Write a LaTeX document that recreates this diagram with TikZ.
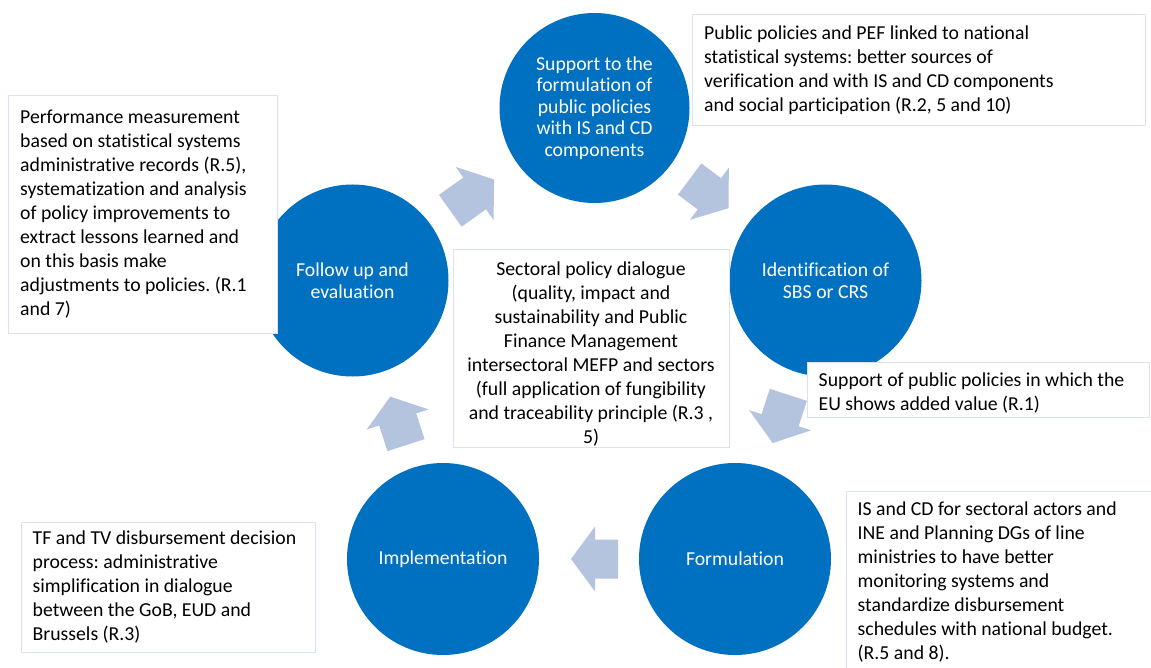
\documentclass[tikz,border=0pt]{standalone}
\usepackage{fontspec}
\setmainfont{Carlito}[Ligatures=NoCommon]
\usepackage{tikz}
\usepackage{xcolor}
\usetikzlibrary{positioning, calc}
\frenchspacing

\definecolor{stageblue}{RGB}{0,112,192}
\definecolor{arrowgrey}{RGB}{180,196,222}
\definecolor{boxedge}{RGB}{218,227,243}

\tikzset{
  stage/.style={circle, fill=stageblue, text=white, minimum size=192pt, inner sep=0pt,
    align=center, font=\fontsize{19.75}{21.6}\selectfont},
  notebox/.style={draw=boxedge, line width=1pt, fill=white, inner sep=0pt},
  notetext/.style={inner sep=0pt, align=left, font=\fontsize{19.75}{24}\selectfont, text=black}
}

\begin{document}
\begin{tikzpicture}[x=1pt, y=-1pt]
\clip (0,0) rectangle (1151,668);
\fill[white] (0,0) rectangle (1151,668);

% stages of the cycle
\node[stage, minimum size=190pt] (support) at (594.5,108) {Support to the\\formulation of\\public policies\\with IS and CD\\components};
\node[stage] (ident) at (825.5,280.5) {Identification of\\SBS or CRS};
\node[stage] (formul) at (735,559) {Formulation};
\node[stage] (implem) at (443,559) {Implementation};
\node[stage] (followup) at (352.5,280.5) {Follow up and\\evaluation};

% block arrows between the stages
\foreach \from/\to/\back/\fwd in {
    followup/support/28.5/25.4,
    support/ident/25.4/23.2,
    ident/formul/26.2/24.5,
    formul/implem/29/18,
    implem/followup/26.7/24.3} {
  \path let \p1=($(\to.center)-(\from.center)$), \n1={atan2(\y1,\x1)} in \pgfextra{\xdef\arrowdir{\n1}};
  \begin{scope}[shift={($(\from.center)!0.5!(\to.center)$)}, rotate=\arrowdir]
    \fill[arrowgrey] (-\back,-19.5) -- (\fwd-24,-19.5) -- (\fwd-24,-32.5) -- (\fwd,0)
      -- (\fwd-24,32.5) -- (\fwd-24,19.5) -- (-\back,19.5) -- cycle;
  \end{scope}
}

% notes
\node[notebox, minimum width=269pt, minimum height=237pt] (measure) at (142.5,214.5) {};
\node[notetext, right=12.5pt of measure.west] (measuretext)
  {Performance measurement\\based on statistical systems\\administrative records (R.5),\\systematization and analysis\\of policy improvements to\\extract lessons learned and\\on this basis make\\adjustments to policies. (R.1\\and 7)};
\node[notebox, minimum width=453pt, minimum height=111pt] (statsys) at (918.5,70.5) {};
\node[notetext, right=12.5pt of statsys.west] (statsystext)
  {Public policies and PEF linked to national\\statistical systems: better sources of\\verification and with IS and CD components\\and social participation (R.2, 5 and 10)};
\node[notebox, minimum width=342pt, minimum height=55pt] (addedval) at (978,389.5) {};
\node[notetext, right=12pt of addedval.west, yshift=-4pt] (addedvaltext)
  {Support of public policies in which the\\EU shows added value (R.1)};
\node[notebox, minimum width=310pt, minimum height=183pt] (monitor) at (1001,582.5) {};
\node[notetext, right=12pt of monitor.west] (monitortext)
  {IS and CD for sectoral actors and\\INE and Planning DGs of line\\ministries to have better\\monitoring systems and\\standardize disbursement\\schedules with national budget.\\(R.5 and 8).};
\node[notebox, minimum width=294pt, minimum height=130pt] (disburse) at (168,587) {};
\node[notetext, right=12pt of disburse.west] (disbursetext)
  {TF and TV disbursement decision\\process: administrative\\simplification in dialogue\\between the GoB, EUD and\\Brussels (R.3)};

% sectoral dialogue in the middle
\node[notebox, minimum width=276pt, minimum height=197pt] (dialoguebox) at (591,348.5) {};
\node[notetext, align=center] (dialogue) at ([yshift=-5.5pt]dialoguebox.center)
  {Sectoral policy dialogue\\(quality, impact and\\sustainability and Public\\Finance Management\\intersectoral MEFP and sectors\\(full application of fungibility\\and traceability principle (R.3 ,\\5)};
\end{tikzpicture}
\end{document}
